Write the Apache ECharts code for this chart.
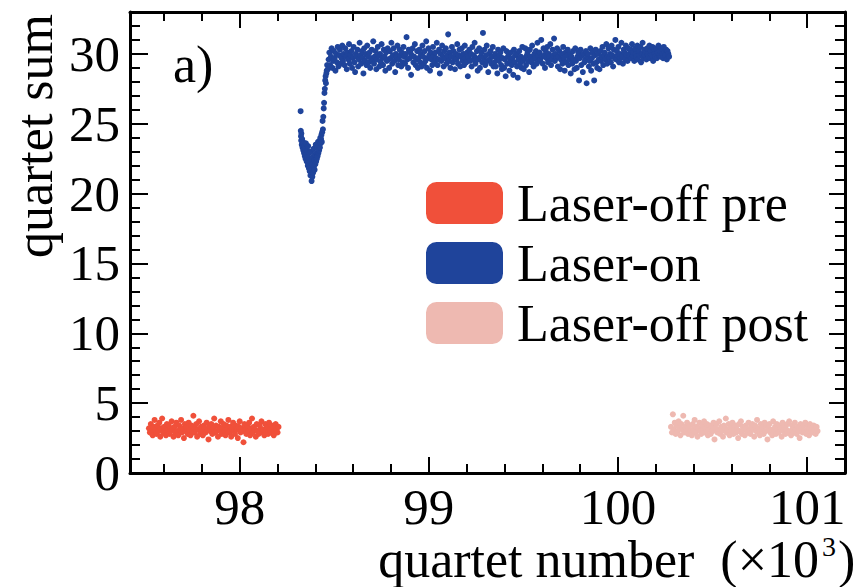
<!DOCTYPE html>
<html><head><meta charset="utf-8">
<script src="https://cdn.jsdelivr.net/npm/echarts@6/dist/echarts.min.js"></script>
<style>html,body{margin:0;padding:0;background:#fff}#c{width:856px;height:587px}</style>
</head><body><div id="c"></div>
<script>
// ---- tick labels / ticks ----
const xMajorTicks = [98000, 99000, 100000, 101000];
const xMinorTicks = [97600, 97800, 98200, 98400, 98600, 98800, 99200, 99400, 99600, 99800, 100200, 100400, 100600, 100800];
const yMajorTicks = [0, 5, 10, 15, 20, 25, 30];
const yMinorTicks = [1, 2, 3, 4, 6, 7, 8, 9, 11, 12, 13, 14, 16, 17, 18, 19, 21, 22, 23, 24, 26, 27, 28, 29, 31, 32];
const seriesNames = ['Laser-off pre', 'Laser-on', 'Laser-off post'];

// ---- Laser-off pre: quartet sums, one every preStep quartets from preStart ----
const preStart = 97520, preStep = 5;
const preSum = [
3.2,2.9,3.5,3.0,2.7,3.3,3.8,3.1,2.8,3.4,3.0,3.6,2.6,3.2,3.9,2.9,3.3,3.0,2.7,3.5,
3.1,3.4,2.8,3.0,3.7,3.2,2.6,3.3,2.9,3.6,3.0,2.7,3.4,3.1,3.8,2.9,3.2,2.5,3.5,3.0,
3.3,2.8,3.6,3.1,2.7,3.4,3.0,4.1,2.9,3.2,3.5,2.6,3.1,3.7,2.8,3.3,3.0,2.7,3.4,3.2,
2.9,3.6,3.1,2.4,3.3,3.0,3.5,2.8,3.2,3.9,2.9,3.4,3.0,2.6,3.3,3.1,3.7,2.8,3.2,3.5,
3.0,2.7,3.4,3.1,3.8,2.9,3.3,2.6,3.2,3.6,3.0,2.8,3.4,3.1,2.5,3.3,3.7,2.9,3.2,3.0,
2.2,3.5,3.1,2.8,3.4,3.0,3.6,2.7,3.2,3.9,2.9,3.3,3.1,2.6,3.5,3.0,2.8,3.4,3.2,3.7,
2.9,3.1,2.7,3.5,3.0,3.3,2.8,3.6,3.1,2.9,3.4,3.2,2.7,3.0,3.5,3.1,2.9,3.3
];

// ---- Laser-on: dip region as [quartet, sum] pairs ----
const onDip = [
[98322,25.9],[98323,24.5],[98324,24.1],[98325,23.8],[98326,24.3],[98328,23.5],[98330,23.9],[98332,23.3],
[98334,23.7],[98336,23.1],[98338,23.6],[98340,22.9],[98342,23.4],[98344,22.7],[98346,23.2],[98348,22.5],
[98350,23.6],[98352,22.8],[98354,22.3],[98356,23.1],[98358,22.6],[98360,22.0],[98362,23.4],[98364,22.4],
[98366,21.8],[98368,22.9],[98370,21.6],[98372,22.3],[98374,21.3],[98376,23.0],[98378,21.7],[98380,20.9],
[98382,22.1],[98384,21.2],[98386,22.6],[98388,21.5],[98390,23.2],[98392,21.9],[98394,22.4],[98396,21.7],
[98398,22.8],[98400,22.1],[98402,23.5],[98404,22.3],[98406,22.9],[98408,22.5],[98410,23.3],[98412,22.7],
[98414,23.7],[98416,22.9],[98418,23.4],[98420,23.1],[98422,23.8],[98424,23.3],[98426,24.0],[98428,23.6],
[98430,23.9],[98432,24.2],[98434,23.7],[98436,24.4],[98438,25.2],[98440,24.6],[98442,25.5],[98444,26.1],
[98446,26.5],[98448,27.2],[98450,27.5],[98452,28.1],[98454,28.4],[98456,27.9],[98458,28.6],[98460,28.8],[98462,29.2]
];
// ---- Laser-on: plateau, one every onStep quartets from onStart ----
const onStart = 98466, onStep = 4;
const onSum = [
28.9,29.6,30.1,29.2,29.8,30.4,29.0,29.5,30.2,29.7,28.8,30.0,29.4,30.5,29.1,29.9,30.3,29.3,29.7,30.6,
29.5,30.0,29.2,30.4,29.8,28.9,30.1,29.6,30.7,29.3,29.9,30.2,29.0,29.7,30.5,29.4,28.7,30.0,29.8,30.3,
29.1,29.6,30.8,29.9,29.3,30.2,29.7,28.6,30.4,29.5,30.0,29.2,30.6,29.8,29.4,30.1,29.0,29.7,30.3,29.5,
30.9,29.3,29.8,30.2,28.9,29.6,30.5,29.9,29.1,30.0,29.4,30.7,29.7,29.2,30.3,29.8,28.8,30.1,29.5,30.4,
29.6,29.0,30.2,29.7,30.8,29.3,29.9,30.4,29.5,28.7,30.0,29.8,30.6,29.2,29.6,30.3,29.9,29.1,30.1,29.4,
30.5,29.8,29.3,30.0,31.2,29.6,29.0,30.3,29.7,30.1,28.5,29.9,30.4,29.4,29.8,30.7,29.2,29.6,30.2,29.0,
29.7,30.3,29.4,30.0,29.1,30.6,29.8,29.3,30.2,29.5,30.9,29.0,29.7,30.4,29.9,28.8,30.1,29.6,29.2,30.5,
29.9,29.4,30.1,29.7,30.8,29.2,29.6,30.3,28.6,30.0,29.5,30.6,29.8,29.1,30.2,29.7,30.4,29.3,29.9,31.4,
29.5,30.1,29.0,29.8,30.5,29.4,30.2,29.7,28.9,30.0,29.6,30.7,29.3,29.9,30.3,29.1,29.8,30.4,29.5,30.0,
29.2,30.6,29.7,29.4,30.1,28.4,29.8,30.3,29.5,30.0,29.1,30.5,29.6,29.9,30.8,29.3,29.7,30.2,28.8,29.6,
30.4,29.0,29.8,30.1,29.4,31.5,29.7,30.3,29.2,29.9,30.6,29.5,28.7,30.0,29.6,30.2,29.3,29.8,30.5,29.1,
29.4,30.0,29.1,29.7,28.6,30.3,29.5,29.9,30.1,29.2,28.9,29.7,30.4,29.0,29.6,28.4,30.2,29.3,29.8,30.0,
28.8,29.5,30.1,29.2,29.7,28.5,30.3,29.4,29.9,30.0,29.1,28.3,29.6,30.2,29.3,29.8,29.0,30.5,29.5,28.9,
29.7,30.4,29.2,29.9,30.1,29.5,28.7,30.3,29.8,29.4,30.6,29.6,29.1,30.0,29.7,30.2,29.3,30.8,29.9,29.5,
30.1,29.6,31.0,29.8,29.3,30.4,29.9,29.0,30.2,29.7,30.5,29.4,30.0,29.8,30.7,29.2,29.6,30.3,29.9,31.1,
29.5,30.0,29.7,30.4,29.1,29.8,30.2,28.9,29.6,30.0,29.3,30.5,29.7,28.8,30.1,29.4,29.9,30.3,29.2,29.6,
30.0,28.6,29.8,29.3,30.2,29.6,28.9,30.4,29.5,29.0,29.8,30.1,28.1,29.7,30.3,29.2,29.9,28.7,30.0,29.4,
29.6,30.2,27.9,29.8,30.0,29.1,29.5,30.4,28.8,29.7,30.1,29.3,28.1,29.9,30.3,29.4,29.0,30.0,29.6,28.9,
30.2,29.5,29.8,30.5,29.2,29.9,30.1,29.6,30.7,29.3,29.8,30.4,29.7,30.0,29.4,30.6,29.9,29.1,30.3,29.7,
31.0,29.6,30.2,29.9,30.5,29.4,30.0,29.7,30.8,29.8,29.3,30.3,30.1,29.6,30.6,29.9,29.5,30.4,30.0,29.8,
30.3,29.7,30.7,29.9,30.1,29.5,30.4,30.0,29.8,30.6,29.6,30.2,29.9,30.5,29.4,30.0,30.8,29.7,30.3,29.9,
30.1,29.6,30.4,30.0,29.8,30.6,29.7,30.2,29.9,30.5,29.5,30.3,30.0,29.8,30.4,29.7,30.1,30.6,29.9,30.2,
29.8,30.4,30.0,29.7,30.5,30.1,29.9,30.3,29.6,30.2,30.0,29.8
];

// ---- Laser-off post ----
const postStart = 100280, postStep = 5;
const postSum = [
3.3,2.9,4.2,3.1,3.6,2.8,3.4,3.0,3.7,3.2,2.7,3.5,3.1,4.1,2.9,3.3,3.0,3.6,2.8,3.2,
3.4,3.0,2.7,3.5,3.1,3.8,2.9,3.3,2.6,3.2,3.6,3.0,2.8,3.4,3.1,3.7,2.9,3.2,3.5,2.7,
3.1,3.4,2.8,3.3,3.0,3.6,2.4,3.2,3.5,2.9,3.1,3.7,2.8,3.3,3.0,2.6,3.4,3.2,3.9,2.9,
3.1,3.5,2.7,3.3,3.0,3.6,2.8,3.2,3.4,2.9,3.1,2.5,3.5,3.0,3.7,2.8,3.3,3.1,2.7,3.4,
3.2,2.9,3.6,3.0,2.8,3.3,3.5,3.1,2.6,3.4,3.0,3.8,2.9,3.2,2.7,3.5,3.1,3.3,2.8,3.6,
3.0,3.4,2.4,3.2,3.5,2.9,3.1,2.7,3.7,3.0,3.3,2.8,3.5,3.1,2.9,3.4,3.2,2.6,3.6,3.0,
3.3,2.8,3.1,3.5,2.9,3.7,3.0,2.7,3.4,3.2,2.9,3.6,3.1,2.8,3.3,3.0,2.5,3.5,3.2,2.9,
3.4,3.0,3.6,2.8,3.1,3.3,2.7,3.5,3.0,3.2,2.9,3.4,3.1,2.8,3.3,3.0
];

const X_MIN = 97420, X_MAX = 101200, Y_MIN = 0, Y_MAX = 33;
const COLORS = ['#F0503A', '#1F449B', '#EEB9B1'];
const SERIF = 'Liberation Serif';

const preData = preSum.map((v, i) => [preStart + i * preStep, v]);
const onData = onDip.concat(onSum.map((v, i) => [onStart + i * onStep, v]));
const postData = postSum.map((v, i) => [postStart + i * postStep, v]);

function makeXAxis(pos, ticks, len, showLabel, showLine) {
  return {
    type: 'value', position: pos, min: X_MIN, max: X_MAX,
    axisLine: { show: showLine, onZero: false, lineStyle: { color: '#000', width: 3 } },
    axisTick: { show: true, inside: true, length: len, customValues: ticks, lineStyle: { color: '#000', width: 2 } },
    axisLabel: { show: showLabel, customValues: ticks, formatter: v => String(Math.round(v / 1000)),
      margin: 8, color: '#000', fontFamily: SERIF, fontSize: 51 },
    splitLine: { show: false }
  };
}
function makeYAxis(pos, ticks, len, showLabel, showLine) {
  return {
    type: 'value', position: pos, min: Y_MIN, max: Y_MAX,
    axisLine: { show: showLine, onZero: false, lineStyle: { color: '#000', width: 3 } },
    axisTick: { show: true, inside: true, length: len, customValues: ticks, lineStyle: { color: '#000', width: 2 } },
    axisLabel: { show: showLabel, customValues: ticks, margin: 10, color: '#000', fontFamily: SERIF, fontSize: 51 },
    splitLine: { show: false }
  };
}
function txt(text, x, y, size, extra) {
  return { type: 'text', x: x, y: y,
    style: Object.assign({ text: text, fontFamily: SERIF, fontSize: size, fill: '#000', verticalAlign: 'middle' }, extra || {}) };
}

const option = {
  animation: false,
  backgroundColor: '#fff',
  textStyle: { fontFamily: SERIF },
  grid: { left: 130, right: 11, top: 12, bottom: 114, containLabel: false },
  xAxis: [
    makeXAxis('bottom', xMajorTicks, 16, true, true),
    makeXAxis('bottom', xMinorTicks, 9, false, false),
    makeXAxis('top', xMajorTicks, 16, false, true),
    makeXAxis('top', xMinorTicks, 9, false, false)
  ],
  yAxis: [
    makeYAxis('left', yMajorTicks, 18, true, true),
    makeYAxis('left', yMinorTicks, 10, false, false),
    makeYAxis('right', yMajorTicks, 16, false, true),
    makeYAxis('right', yMinorTicks, 10, false, false)
  ],
  legend: {
    orient: 'vertical', left: 426, top: 177, padding: 0, itemWidth: 77, itemHeight: 42, itemGap: 8,
    icon: 'roundRect', data: seriesNames,
    textStyle: { fontFamily: SERIF, fontSize: 52, color: '#000', padding: [0, 0, 0, 9] }
  },
  graphic: [
    txt('a)', 173, 64, 52),
    { type: 'text', x: 34, y: 136, rotation: Math.PI / 2,
      style: { text: 'quartet sum', fontFamily: SERIF, fontSize: 52, fill: '#000', align: 'center', verticalAlign: 'middle' } },
    txt('quartet number  (×10', 819, 559, 52, { align: 'right' }),
    txt('3', 822, 546, 28, { align: 'left' }),
    txt(')', 838, 559, 52, { align: 'left' })
  ],
  series: [
    { name: seriesNames[0], type: 'scatter', data: preData, symbolSize: 6, itemStyle: { color: COLORS[0], opacity: 1 }, emphasis: { disabled: true } },
    { name: seriesNames[1], type: 'scatter', data: onData, symbolSize: 6, itemStyle: { color: COLORS[1], opacity: 1 }, emphasis: { disabled: true } },
    { name: seriesNames[2], type: 'scatter', data: postData, symbolSize: 6, itemStyle: { color: COLORS[2], opacity: 1 }, emphasis: { disabled: true } }
  ]
};

const chart = echarts.init(document.getElementById('c'), null, { renderer: 'svg' });
chart.setOption(option);
</script>
</body></html>
